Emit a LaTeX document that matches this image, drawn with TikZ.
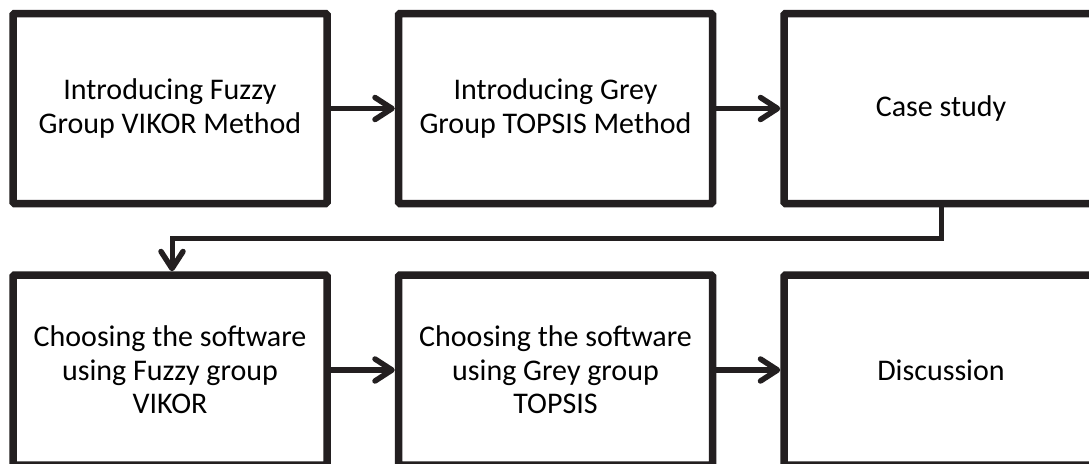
\documentclass[tikz,border=0pt]{standalone}
\usepackage{fontspec}
\setmainfont{Carlito}
\usetikzlibrary{arrows.meta,shadows}
\definecolor{ink}{RGB}{35,31,32}
\begin{document}
\begin{tikzpicture}[x=1pt,y=-1pt,
  stepbox/.style={draw=ink, line width=7.5pt, fill=white, rounded corners=1.5pt,
    minimum width=314pt, minimum height=190pt, inner sep=0pt, align=center,
    font=\fontsize{30}{33.5}\selectfont, text=black,
    drop shadow={shadow xshift=1pt, shadow yshift=-3pt, opacity=0.25, fill=black!60}},
  flow/.style={draw=ink, line width=5.5pt,
    -{Straight Barb[length=17pt, width=22pt, line width=5.5pt, round]}},
  link/.style={draw=ink, line width=5pt,
    -{Straight Barb[length=17pt, width=22pt, line width=5.5pt, round]}}]
\useasboundingbox (0,0) rectangle (1089,463);
\clip (0,0) rectangle (1089,463);
\fill[white] (0,0) rectangle (1089,463);
\node[stepbox] (a) at (170,108.5) {Introducing Fuzzy\\Group VIKOR Method};
\node[stepbox] (b) at (555.5,108.5) {Introducing Grey\\Group TOPSIS Method};
\node[stepbox] (c) at (941,108.5) {Case study};
\node[stepbox] (d) at (170,370) {Choosing the software\\using Fuzzy group\\VIKOR};
\node[stepbox] (e) at (555.5,370) {Choosing the software\\using Grey group\\TOPSIS};
\node[stepbox] (f) at (941,370) {Discussion};
\coordinate (k1) at (941,238.5);
\coordinate (k2) at (172,238.5);
\draw[flow] (a) -- (b);
\draw[flow] (b) -- (c);
\draw[flow] (d) -- (e);
\draw[flow] (e) -- (f);
\draw[link, line join=miter] (c.south) -- (k1) -- (k2) -- (k2 |- d.north);
\end{tikzpicture}
\end{document}
